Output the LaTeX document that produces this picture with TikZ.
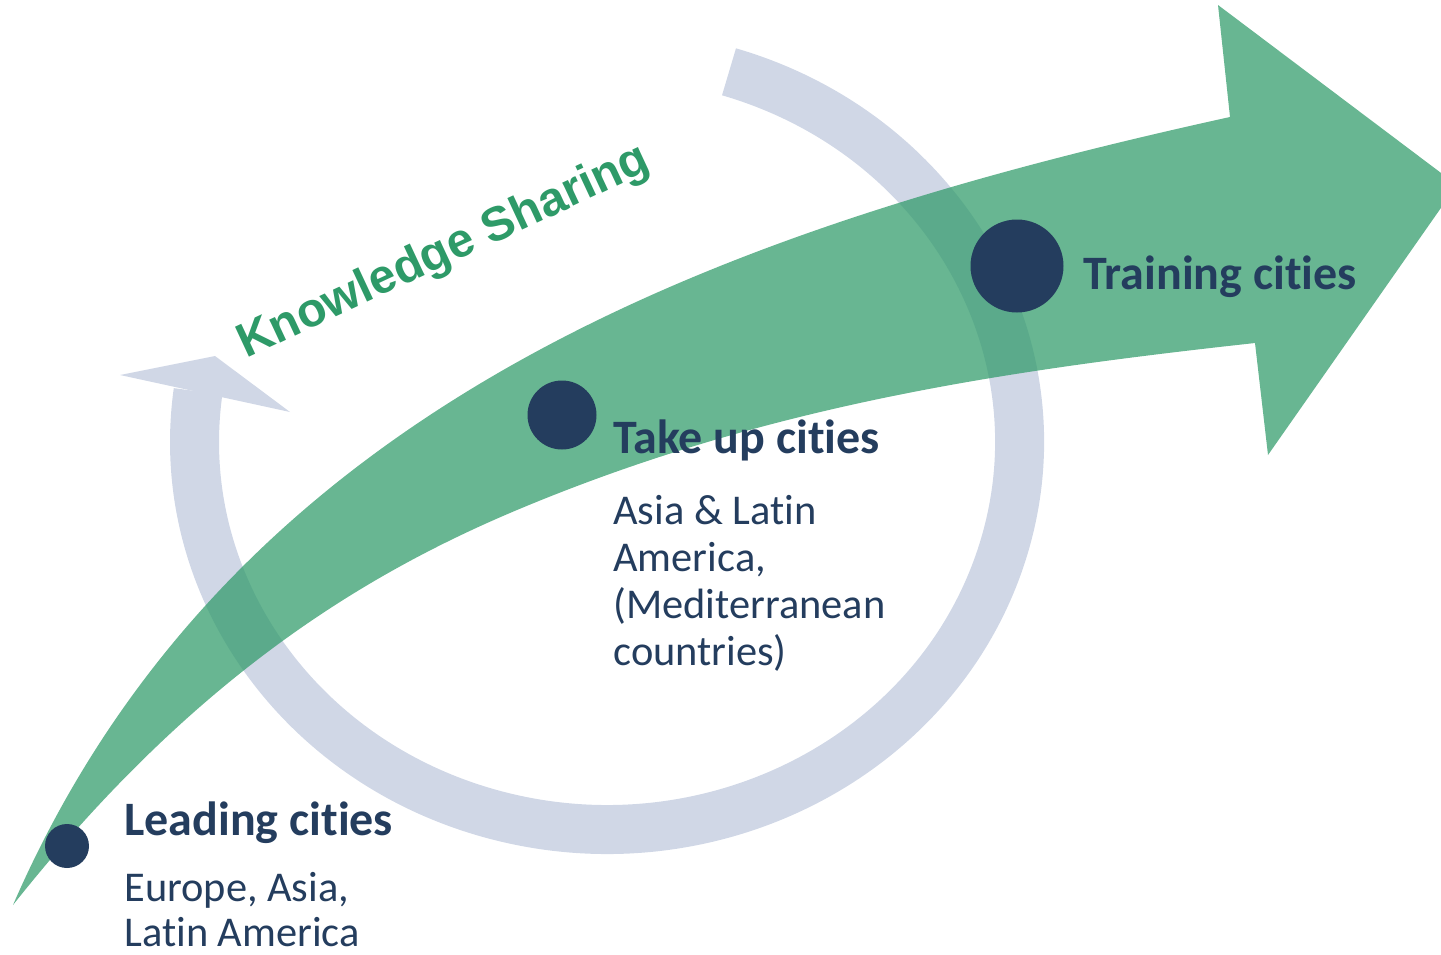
\documentclass[tikz,border=0pt]{standalone}
\usepackage{fontspec}
\setmainfont{Carlito}[Ligatures=NoCommon]
\newfontfamily\ksfont{Liberation Sans}
\definecolor{navy}{RGB}{36,61,94}
\definecolor{ringc}{RGB}{208,215,230}
\definecolor{arrowg}{RGB}{46,154,104}
\definecolor{ksg}{RGB}{46,154,104}
\begin{document}
\begin{tikzpicture}[x=0.5pt,y=-0.5pt,
  dot/.style={circle, fill=navy, inner sep=0pt},
  title/.style={font=\fontsize{24}{28}\selectfont\bfseries, text=navy, anchor=base west, inner sep=0pt},
  body/.style={text=navy, anchor=base west, inner sep=0pt}]
\useasboundingbox (0,0) rectangle (1441,954);
% circular arrow (ring)
\draw[ringc, line width=24.5pt] (729,71.8) arc[start angle=-72.8, end angle=187.5, x radius=412.5, y radius=387.5];
\fill[ringc] (120,375) -- (215,356) -- (290,412) -- cycle;
% big green arrow
\fill[arrowg, fill opacity=0.72]
  (13,905) .. controls (233,399) and (730,227) .. (1230,117)
  -- (1218,5) -- (1457,185) -- (1268,455) -- (1255,343)
  .. controls (1005,370.5) and (767,405) .. (517,510)
  .. controls (347,581.4) and (183,690.8) .. (13,905)
  -- cycle;
% dots
\node[dot, minimum size=22pt] (d1) at (67,846) {};
\node[dot, minimum size=34.5pt] (d2) at (562,415) {};
\node[dot, minimum size=46.5pt] (d3) at (1017,266) {};
% texts
\node[rotate=25, anchor=base west, inner sep=0pt, text=ksg, font=\ksfont\bfseries\fontsize{24}{28}\selectfont] (ks) at (246,359) {Knowledge Sharing};
\node[title] (lead) at (124,835) {Leading cities};
\node[body, font=\fontsize{21.2}{22.5}\selectfont] (leadsub) at (124,901) {\begin{tabular}[t]{@{}l@{}}Europe, Asia,\\Latin America\end{tabular}};
\node[title] (take) at (613,453) {Take up cities};
\node[body, font=\fontsize{21.2}{23.5}\selectfont] (takesub) at (613,524) {\begin{tabular}[t]{@{}l@{}}Asia \& Latin\\America,\\(Mediterranean\\countries)\end{tabular}};
\node[title] (train) at (1083,289) {Training cities};
\end{tikzpicture}
\end{document}
